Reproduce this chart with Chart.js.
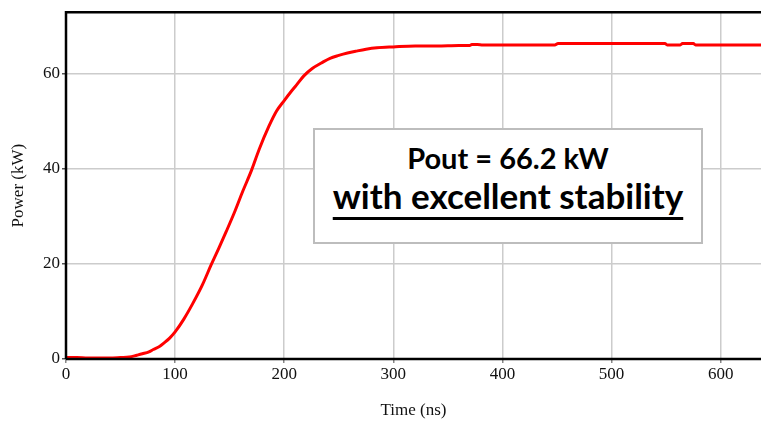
<!DOCTYPE html>
<html>
<head>
<meta charset="utf-8">
<script src="https://cdn.jsdelivr.net/npm/chart.js@4"></script>
<style>
  body { margin: 0; background: #fff; }
  #wrap { position: relative; width: 761px; height: 421px; }
  #note {
    position: absolute; left: 313px; top: 128px; width: 386px; height: 112px;
    border: 2px solid #bdbdbd; background: #fff;
    font-family: Lato, "Open Sans", sans-serif; font-weight: bold; color: #000;
    text-align: center;
  }
  #note .l1 { font-size: 29px; margin-top: 11px; line-height: 34px; }
  #note .l2 { font-size: 35px; line-height: 40px; text-decoration: underline; text-decoration-thickness: 2.5px; text-underline-offset: 8px; }
</style>
</head>
<body>
<div id="wrap">
  <canvas id="power-chart"></canvas>
  <div id="note"><div class="l1">Pout = 66.2 kW</div><div class="l2">with excellent stability</div></div>
</div>
<script>
// values
const timeNs = [0, 10, 20, 30, 40, 50, 58, 65, 70, 76, 80, 86, 90, 95, 100, 108, 116, 125, 133, 140,
  147, 155, 162, 170, 177, 186, 193, 200, 206, 211, 218, 226, 234, 242, 250, 258, 266, 275, 285, 300,
  320, 340, 360, 370, 372, 377, 382, 400, 420, 440, 448, 451, 480, 500, 520, 549, 551, 563, 565, 575,
  577, 600, 637];
const powerKw = [0.3, 0.3, 0.2, 0.2, 0.2, 0.3, 0.4, 0.8, 1.1, 1.5, 2.0, 2.7, 3.4, 4.4, 5.7, 8.4, 11.6, 15.6, 19.8, 23.3,
  26.9, 31.2, 35.3, 39.7, 44.1, 49.0, 52.2, 54.4, 56.2, 57.6, 59.6, 61.2, 62.3, 63.3, 63.9, 64.4, 64.8, 65.2, 65.5, 65.7,
  65.9, 65.9, 66.0, 66.0, 66.2, 66.2, 66.1, 66.1, 66.1, 66.1, 66.1, 66.4, 66.4, 66.4, 66.4, 66.4, 66.1, 66.1, 66.4, 66.4,
  66.1, 66.1, 66.1];
const xTickStep = 100;
const yTickStep = 20;

const serif = { family: '"Liberation Serif", "DejaVu Serif", serif', size: 17 };

const framePlugin = {
  id: 'frame',
  afterDraw(chart) {
    const { ctx, chartArea: a } = chart;
    ctx.save();
    ctx.strokeStyle = '#000';
    ctx.lineWidth = 2.5;
    ctx.beginPath();
    ctx.moveTo(a.left, a.bottom);
    ctx.lineTo(a.left, a.top);
    ctx.lineTo(a.right, a.top);
    ctx.moveTo(a.left, a.bottom);
    ctx.lineTo(a.right, a.bottom);
    ctx.stroke();
    ctx.restore();
  }
};

new Chart(document.getElementById('power-chart'), {
  type: 'line',
  data: {
    datasets: [{
      label: 'Power',
      data: timeNs.map((t, i) => ({ x: t, y: powerKw[i] })),
      borderColor: '#ff0000',
      borderWidth: 3,
      pointRadius: 0,
      cubicInterpolationMode: 'monotone',
      fill: false
    }]
  },
  options: {
    responsive: true,
    maintainAspectRatio: false,
    animation: false,
    layout: { padding: { top: 8, right: 0, left: 0, bottom: 0 } },
    plugins: { legend: { display: false }, tooltip: { enabled: false } },
    scales: {
      x: {
        type: 'linear',
        min: 0,
        max: 637,
        afterFit(scale) { scale.height = 62; },
        ticks: { stepSize: xTickStep, includeBounds: false, color: '#111', font: serif, padding: 1, maxRotation: 0 },
        grid: { color: '#cccccc', lineWidth: 1.5, tickLength: 4, tickColor: '#888' },
        border: { display: false },
        title: { display: true, text: 'Time (ns)', color: '#111', font: serif, padding: { top: 0, bottom: 0 } }
      },
      y: {
        min: 0,
        max: 73,
        afterFit(scale) { scale.width = 66; },
        ticks: { stepSize: yTickStep, includeBounds: false, color: '#111', font: serif, padding: 2 },
        grid: { color: '#cccccc', lineWidth: 1.5, tickLength: 4, tickColor: '#555' },
        border: { display: false },
        title: { display: true, text: 'Power (kW)', color: '#111', font: serif, padding: { top: 8, bottom: 0 } }
      }
    }
  },
  plugins: [framePlugin]
});
</script>
</body>
</html>
